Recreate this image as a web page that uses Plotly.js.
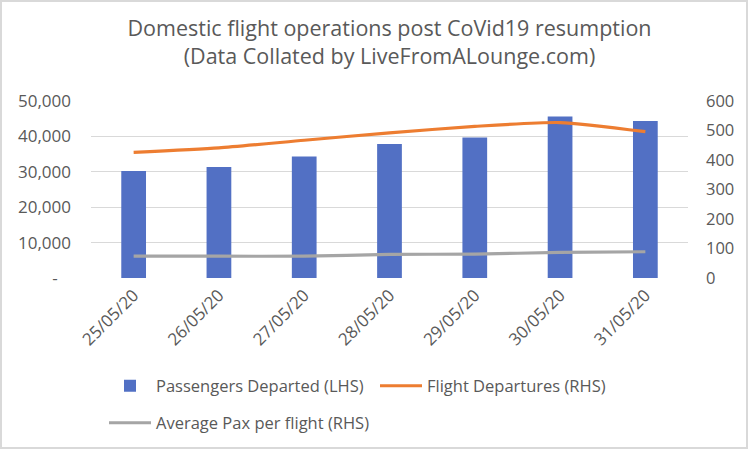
<!DOCTYPE html>
<html>
<head>
<meta charset="utf-8">
<script src="https://cdn.plot.ly/plotly-3.0.1.min.js"></script>
<style>
html,body{margin:0;padding:0;background:#fff;}
#chart{width:750px;height:450px;}
</style>
</head>
<body>
<div id="chart"></div>
<script>
const dates = ["25/05/20","26/05/20","27/05/20","28/05/20","29/05/20","30/05/20","31/05/20"];
const passengersDeparted = [30250, 31380, 34310, 37860, 39670, 45590, 44350];
const flightDepartures = [426, 441, 467, 492, 514, 527, 496];
const avgPaxPerFlight = [74, 74, 74, 80, 81, 87, 89];
const leftTickVals = [0, 10000, 20000, 30000, 40000, 50000];
const leftTickText = ["-\u00a0\u00a0\u00a0", "10,000", "20,000", "30,000", "40,000", "50,000"];
const rightTickVals = [0, 100, 200, 300, 400, 500, 600];

const font = "Open Sans, Noto Sans, sans-serif";
const txt = "#595959";

const traces = [
  {type:"bar", name:"Passengers Departed (LHS)", x:dates, y:passengersDeparted,
   marker:{color:"#5270c4", line:{width:0}}, yaxis:"y", width:0.29, legend:"legend"},
  {type:"scatter", mode:"lines", name:"Flight Departures (RHS)", x:dates, y:flightDepartures,
   line:{color:"#ed7d31", width:3.2, shape:"spline", smoothing:0.6}, yaxis:"y2", legend:"legend"},
  {type:"scatter", mode:"lines", name:"Average Pax per flight (RHS)", x:dates, y:avgPaxPerFlight,
   line:{color:"#a5a5a5", width:3.2, shape:"spline", smoothing:0.6}, yaxis:"y2", legend:"legend2"}
];

const legendCommon = {orientation:"h", xref:"container", yref:"container", xanchor:"left", yanchor:"middle",
  font:{size:16.5, color:txt, family:font}, bgcolor:"rgba(0,0,0,0)", borderwidth:0, itemwidth:42};

const layout = {
  width:750, height:450,
  paper_bgcolor:"#fff", plot_bgcolor:"#fff",
  margin:{l:91, r:62, t:101, b:172, autoexpand:false},
  font:{family:font, color:txt, size:16},
  title:{text:"Domestic flight operations post CoVid19 resumption<br>(Data Collated by LiveFromALounge.com)",
    font:{family:font, size:21.5, color:txt}, x:0.5, xanchor:"center", xref:"paper",
    y:1-36/450, yref:"container", yanchor:"middle"},
  xaxis:{type:"category", tickangle:-45, showgrid:false, showline:false, ticks:"", automargin:false,
    tickfont:{size:17, color:txt}, ticklabelstandoff:3},
  yaxis:{range:[0,50000], tickvals:leftTickVals, ticktext:leftTickText, showgrid:true, automargin:false,
    gridcolor:"#d9d9d9", gridwidth:1, zeroline:false, showline:false, ticks:"",
    tickfont:{size:17, color:txt}, ticklabelstandoff:19},
  yaxis2:{range:[0,600], tickvals:rightTickVals, overlaying:"y", side:"right", showgrid:false, automargin:false,
    zeroline:false, showline:false, ticks:"", tickfont:{size:16.5, color:txt}, ticklabelstandoff:17},
  showlegend:true,
  legend:Object.assign({}, legendCommon, {x:104/750, y:1-386/450, entrywidth:214, entrywidthmode:"pixels"}),
  legend2:Object.assign({}, legendCommon, {x:104/750, y:1-423/450}),
  shapes:[{type:"rect", xref:"paper", yref:"paper", x0:(1-91)/597, x1:(747-91)/597, y0:(278-448)/177, y1:(278-1)/177,
    line:{color:"#d9d9d9", width:2}, fillcolor:"rgba(0,0,0,0)", layer:"below"}]
};

Plotly.newPlot("chart", traces, layout, {displayModeBar:false, staticPlot:true});
</script>
</body>
</html>
